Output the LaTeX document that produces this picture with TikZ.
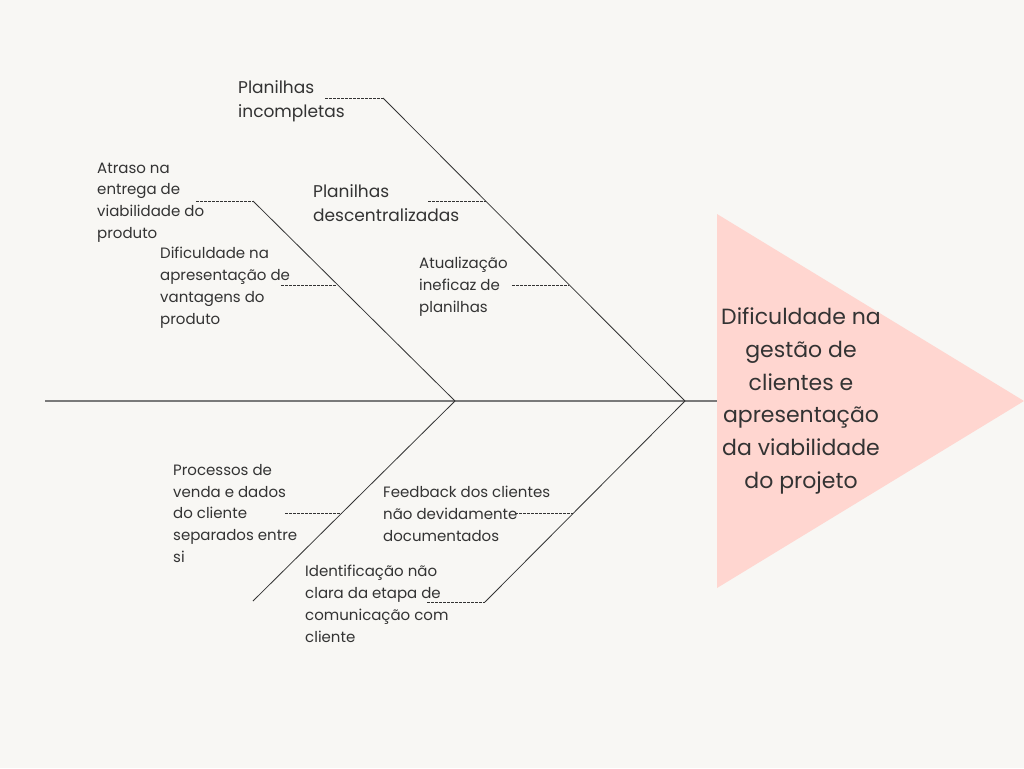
\documentclass[tikz,border=0pt]{standalone}
\usepackage{fontspec}
\setmainfont{Poppins}
\usetikzlibrary{positioning}
\definecolor{paper}{HTML}{F8F7F4}
\definecolor{headpink}{HTML}{FFD6D0}
\definecolor{ink}{HTML}{333333}
\definecolor{spinegray}{HTML}{7A7A7A}

\begin{document}
\begin{tikzpicture}[
  x=1pt, y=-1pt,
  spine line/.style={spinegray, line width=1.3pt},
  bone line/.style={ink, line width=0.8pt},
  tick line/.style={ink, dash pattern=on 2.5pt off 1.5pt, line width=0.6pt},
  cause text/.style={ink, font=\fontsize{15}{21.8}\selectfont, align=left, anchor=north west, inner sep=0pt},
  big cause text/.style={cause text, font=\fontsize{17}{24}\selectfont},
  head text/.style={ink, font=\fontsize{22}{32.7}\selectfont, align=center, inner sep=0pt}
  ]
  \fill[paper] (0,0) rectangle (1024,768);
  \useasboundingbox (0,0) rectangle (1024,768);

  % head of the fish
  \fill[headpink] (717,214) coordinate (hTop) -- (1024,401) coordinate (hTip) -- (717,588) coordinate (hBot) -- cycle;
  \node[head text] (problem) at (801,401) {Dificuldade na\\gestão de\\clientes e\\apresentação\\da viabilidade\\do projeto};

  % spine and bones
  \coordinate (tail) at (45,401);
  \coordinate (head) at (717,401);
  \coordinate (jR) at (685,401);
  \coordinate (jL) at (455,401);
  \coordinate (uR) at (383,98);
  \coordinate (lR) at (485,602);
  \coordinate (uL) at (253,201);
  \coordinate (lL) at (253,601);
  \draw[spine line] (tail) -- (head);
  \draw[bone line] (jR) -- (uR);
  \draw[bone line] (jR) -- (lR);
  \draw[bone line] (jL) -- (uL);
  \draw[bone line] (jL) -- (lL);

  % small dashed ticks
  \coordinate (t1) at (325,98);
  \coordinate (b2) at (486,201);  \coordinate (t2) at (428,201);
  \coordinate (b3) at (569,285);  \coordinate (t3) at (512,285);
  \coordinate (t4) at (196,201);
  \coordinate (b5) at (337,285);  \coordinate (t5) at (281,285);
  \coordinate (b6) at (342,513);  \coordinate (t6) at (285,513);
  \coordinate (b7) at (573,513);  \coordinate (t7) at (515,513);
  \coordinate (t8) at (427,602);
  \draw[tick line] (t1) -- (uR);
  \draw[tick line] (t2) -- (b2);
  \draw[tick line] (t3) -- (b3);
  \draw[tick line] (t4) -- (uL);
  \draw[tick line] (t5) -- (b5);
  \draw[tick line] (t6) -- (b6);
  \draw[tick line] (t7) -- (b7);
  \draw[tick line] (t8) -- (lR);

  % causes
  \node[big cause text] (incompletas) at (238,80) {Planilhas\\incompletas};
  \node[big cause text] (descentral) at (313,184) {Planilhas\\descentralizadas};
  \node[cause text] (atualizacao) at (419,257) {Atualização\\ineficaz de\\planilhas};
  \node[cause text] (atraso) at (97,162.5) {Atraso na\\entrega de\\viabilidade do\\produto};
  \node[cause text] (vantagens) at (160,247) {Dificuldade na\\apresentação de\\vantagens do\\produto};
  \node[cause text] (processos) at (173,464) {Processos de\\venda e dados\\do cliente\\separados entre\\si};
  \node[cause text] (feedback) at (383,486) {Feedback dos clientes\\não devidamente\\documentados};
  \node[cause text] (etapa) at (305,565) {Identificação não\\clara da etapa de\\comunicação com\\cliente};
\end{tikzpicture}
\end{document}
